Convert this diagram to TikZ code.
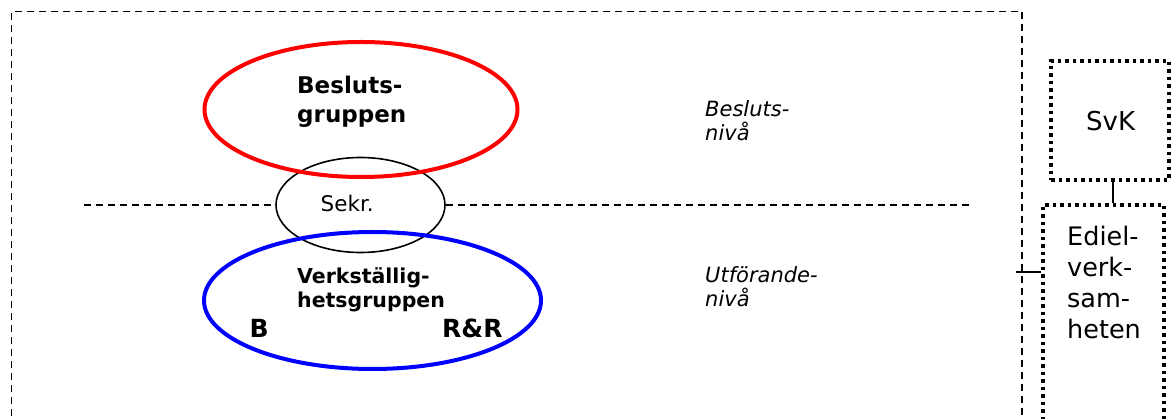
\documentclass[tikz,border=0pt]{standalone}
\usepackage{fontspec}
\setmainfont{DejaVu Sans}
\usetikzlibrary{shapes.geometric}
\begin{document}
\begin{tikzpicture}[x=1pt,y=-1pt,
  outer/.style={line width=1.8pt, dash pattern=on 7pt off 5pt},
  dotbox/.style={draw, line width=3.5pt, dash pattern=on 3.5pt off 4pt, rectangle, inner sep=0pt},
  group/.style={ellipse, line width=4pt, inner sep=0pt},
  lbl/.style={anchor=base west, inner sep=0pt, align=left},
  conn/.style={line width=1.5pt}]
\useasboundingbox (0,0) rectangle (1171,419);
% outer dashed frame
\coordinate (o1) at (11.5,440);
\coordinate (o2) at (11.5,11.5);
\coordinate (o3) at (1022,11.5);
\coordinate (o4) at (1022,440);
\draw[outer] (o1) -- (o2) -- (o3) -- (o4);
% ellipses
\node[ellipse, draw, line width=1.6pt, minimum width=169pt, minimum height=95pt, inner sep=0pt] (sekr) at (360.5,205) {};
\node[group, draw=red, minimum width=313pt, minimum height=135pt] (beslut) at (361,109.5) {};
\node[group, draw=blue, minimum width=337pt, minimum height=137pt] (verk) at (372.5,300.5) {};
% level divider
\coordinate (ml) at (84,205);
\coordinate (mr) at (970,205);
\draw[outer] (ml) -- (sekr.west);
\draw[outer] (sekr.east) -- (mr);
% texts (anchor = baseline of last line)
\node[lbl, font=\bfseries\fontsize{23}{29}\selectfont] (tb) at (297,123) {Besluts-\\gruppen};
\node[lbl, font=\fontsize{21.5}{25}\selectfont] (ts) at (320.5,212) {Sekr.};
\node[lbl, font=\bfseries\fontsize{20.5}{24}\selectfont] (tv) at (297,308) {Verkställig-\\hetsgruppen};
\node[lbl, font=\bfseries\fontsize{25}{30}\selectfont] (tB) at (249.5,338) {B};
\node[lbl, font=\bfseries\fontsize{25}{30}\selectfont] (tRR) at (442,338) {R\&R};
\node[lbl, font=\itshape\fontsize{21}{23.5}\selectfont] (tbn) at (705,140.5) {Besluts-\\nivå};
\node[lbl, font=\itshape\fontsize{21}{23.5}\selectfont] (tun) at (705,306.5) {Utförande-\\nivå};
% right boxes
\node[dotbox, minimum width=118pt, minimum height=119pt] (svk) at (1110,120.5) {};
\node[lbl, font=\fontsize{26}{30}\selectfont] (tsvk) at (1086,131) {SvK};
\node[dotbox, minimum width=121pt, minimum height=236pt] (ediel) at (1103.5,323) {};
\node[lbl, font=\fontsize{25.5}{31.3}\selectfont] (tediel) at (1067,339) {Ediel-\\verk-\\sam-\\heten};
% connectors
\coordinate (sv) at (1113,180);
\draw[conn] (sv) -- (sv |- ediel.north);
\coordinate (oe) at (1016,272);
\draw[conn] (oe) -- (oe -| ediel.west);
\end{tikzpicture}
\end{document}
